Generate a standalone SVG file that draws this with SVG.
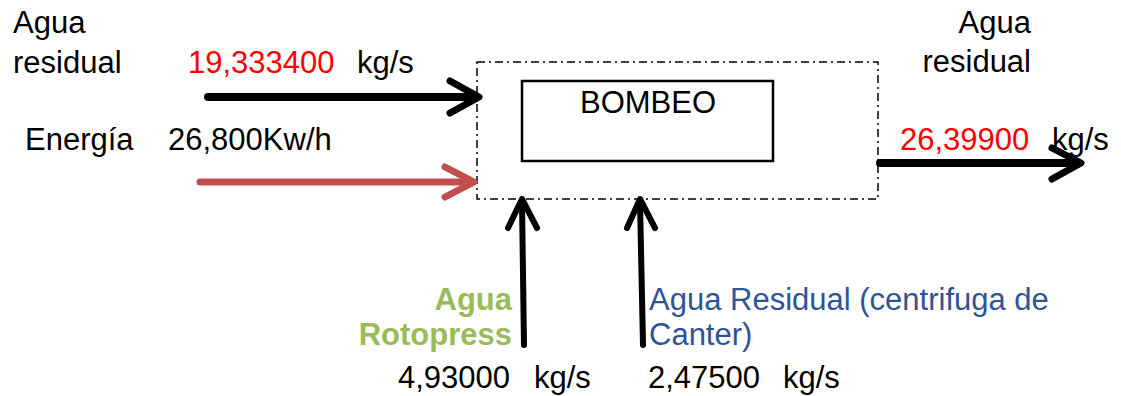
<svg xmlns="http://www.w3.org/2000/svg" width="1121" height="396" viewBox="0 0 1121 396">
<style>
text{font-family:"Liberation Sans",Arial,sans-serif;font-size:31px;fill:#000}
.red{fill:#FF0000}
.green{fill:#9BBB59;font-weight:bold}
.blue{fill:#2F5496}
.arr{fill:none;stroke:#000;stroke-linecap:round;stroke-linejoin:round}
.rarr{fill:none;stroke:#C0504D;stroke-linecap:round;stroke-linejoin:round}
</style>
<rect width="1121" height="396" fill="#fff"/>
<g id="boundary">
<rect x="477" y="62" width="401" height="137" fill="none" stroke="#000" stroke-width="1.5" stroke-dasharray="8 4 2 4"/>
</g>
<g id="bombeo">
<rect x="522" y="81" width="251" height="80" fill="#fff" stroke="#000" stroke-width="2.5"/>
<text x="648" y="113" text-anchor="middle">BOMBEO</text>
</g>
<g id="labels">
<text x="13" y="33">Agua</text>
<text x="13" y="73">residual</text>
<text x="188" y="73"><tspan class="red">19,333400</tspan><tspan x="357">kg/s</tspan></text>
<text x="25" y="150">Energía</text>
<text x="168" y="150">26,800Kw/h</text>
<text x="1031" y="33" text-anchor="end">Agua</text>
<text x="1031" y="72" text-anchor="end">residual</text>
<text x="900" y="150"><tspan class="red">26,39900</tspan><tspan x="1052">kg/s</tspan></text>
<text class="green" x="512" y="310" text-anchor="end">Agua</text>
<text class="green" x="512" y="345" text-anchor="end">Rotopress</text>
<text x="398" y="388">4,93000<tspan x="534">kg/s</tspan></text>
<text class="blue" x="649" y="310">Agua Residual (centrifuga de</text>
<text class="blue" x="649" y="345">Canter)</text>
<text x="648" y="388">2,47500<tspan x="783">kg/s</tspan></text>
</g>
<g id="connectors">
<path class="arr" stroke-width="8" d="M208 97 H476"/>
<path class="arr" stroke-width="7" d="M450 81 L479 97 L450 113"/>
<path class="rarr" stroke-width="7" d="M200 182 H471"/>
<path class="rarr" stroke-width="7" d="M445 167 L474 182 L445 197"/>
<path class="arr" stroke-width="8" d="M880 163 H1078"/>
<path class="arr" stroke-width="7" d="M1052 148 L1081 163 L1052 179"/>
<path class="arr" stroke-width="6" d="M524 345 L522 202"/>
<path class="arr" stroke-width="6" d="M508 228 L522 199 L537 228"/>
<path class="arr" stroke-width="6" d="M643 345 L640 202"/>
<path class="arr" stroke-width="6" d="M627 228 L640 199 L655 228"/>
</g>
</svg>
